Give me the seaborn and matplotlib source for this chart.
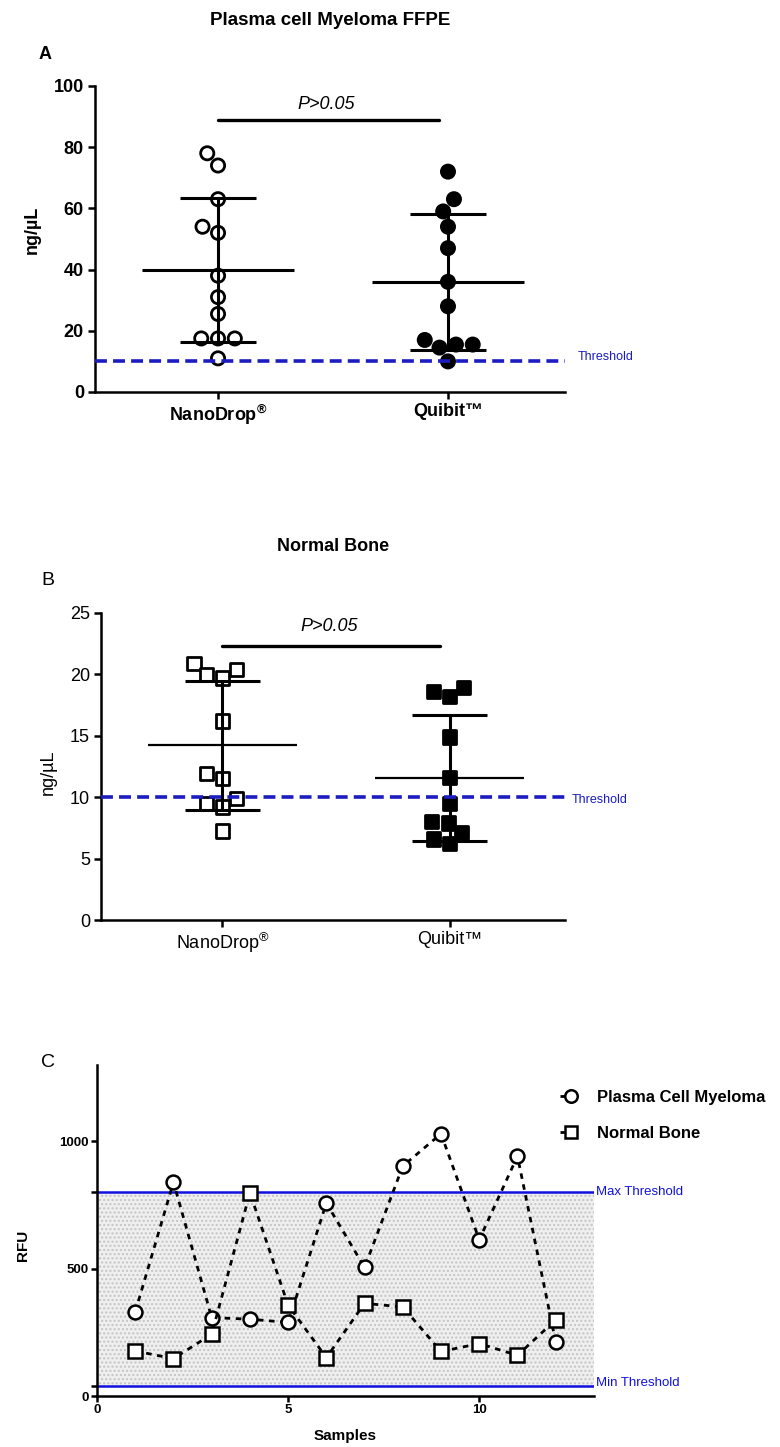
import numpy as np
import pandas as pd
import seaborn as sns
import matplotlib.pyplot as plt

# Valori (ng/uL)
metodi = ["NanoDrop", "Quibit"]
etichette_x = [r"NanoDrop$^{\mathregular{®}}$", "Quibit™"]

mieloma_nanodrop = [78, 74, 63, 54, 52, 38, 31, 25.5, 17.5, 17.5, 17.5, 11]
mieloma_quibit = [72, 63, 59, 54, 47, 36, 28, 17, 15.5, 15.5, 14.5, 10]

osso_nanodrop = [20.9, 20.4, 20.0, 19.7, 16.2, 11.9, 11.5, 9.9, 9.5, 9.2, 7.25]
osso_quibit = [18.9, 18.6, 18.2, 14.9, 11.6, 9.5, 8.0, 7.9, 7.1, 6.6, 6.2]

soglia_ng = 10

# Pannello C (RFU per campione)
campioni = list(range(1, 13))
rfu_mieloma = [331, 840, 308, 302, 289, 758, 505, 903, 1030, 614, 942, 213]
rfu_osso = [177, 147, 243, 798, 357, 151, 364, 350, 175, 206, 160, 299]
soglia_max = 800
soglia_min = 40

sns.set_theme(style="ticks")
plt.rcParams["font.family"] = ["Liberation Sans", "DejaVu Sans"]
plt.rcParams.update({"text.color": "black", "axes.labelcolor": "black",
                     "xtick.color": "black", "ytick.color": "black"})

BLU = "#1c1cc0"

fig = plt.figure(figsize=(7.8, 14.47), dpi=100)
ax_a = fig.add_axes([0.1218, 0.7291, 0.6026, 0.2115])
ax_b = fig.add_axes([0.1295, 0.3642, 0.595, 0.2122])
ax_c = fig.add_axes([0.1244, 0.0352, 0.637, 0.2288])


def pannello(ax, nd, qb, marker, ylim, yticks, bracket_y, p_y, thr_x, thr_y, peso, lw_media):
    df = pd.DataFrame({
        "metodo": [metodi[0]] * len(nd) + [metodi[1]] * len(qb),
        "valore": nd + qb,
    })
    sns.swarmplot(data=df, x="metodo", y="valore", hue="metodo", order=metodi,
                  palette={metodi[0]: "white", metodi[1]: "black"},
                  marker=marker, size=9.5, edgecolor="black", linewidth=2,
                  legend=False, ax=ax, zorder=3)
    # media e deviazione standard
    stats = df.groupby("metodo")["valore"].agg(["mean", "std"]).reindex(metodi)
    for i, (m, s) in enumerate(zip(stats["mean"], stats["std"])):
        ax.hlines(m, i - 0.33, i + 0.33, color="black", lw=lw_media, zorder=4)
        ax.vlines(i, m - s, m + s, color="black", lw=2.2, zorder=4)
        ax.hlines([m - s, m + s], i - 0.165, i + 0.165, color="black", lw=2.2, zorder=4)

    ax.axhline(soglia_ng, color=BLU, lw=2.6, ls=(0, (3.3, 1.7)), zorder=5)
    ax.text(thr_x, thr_y, "Threshold", color=BLU, fontsize=9,
            transform=ax.get_yaxis_transform(), va="center", clip_on=False)

    ax.plot([0, 0.96], [bracket_y, bracket_y], color="black", lw=2.4)
    ax.text(0.47, p_y, "P>0.05", fontsize=13, style="italic", ha="center", va="center")

    ax.set_xlim(-0.535, 1.509)
    ax.set_ylim(*ylim)
    ax.set_yticks(yticks)
    ax.set_xticks([0, 1])
    ax.set_xticklabels(etichette_x)
    ax.set_xlabel("")
    ax.set_ylabel("ng/µL", fontsize=13, fontweight=peso)
    for lab in ax.get_xticklabels() + ax.get_yticklabels():
        lab.set_fontsize(13)
        lab.set_fontweight("bold" if peso == "bold" else "normal")
    ax.tick_params(direction="out", length=5, width=1.8, colors="black", pad=3)
    sns.despine(ax=ax)
    for sp in ["left", "bottom"]:
        ax.spines[sp].set_linewidth(1.8)
        ax.spines[sp].set_color("black")


pannello(ax_a, mieloma_nanodrop, mieloma_quibit, "o", (0, 100), range(0, 101, 20),
         89, 94, 1.026, 11.5, "bold", 2.2)
ax_a.yaxis.set_label_coords(-0.115, 0.53)

pannello(ax_b, osso_nanodrop, osso_quibit, "s", (0, 25), range(0, 26, 5),
         22.3, 23.9, 1.015, 9.8, "normal", 1.6)
ax_b.yaxis.set_label_coords(-0.095, 0.48)

fig.text(0.423, 0.986, "Plasma cell Myeloma FFPE", ha="center", va="center",
         fontsize=13.5, fontweight="bold")
fig.text(0.058, 0.962, "A", ha="center", va="center", fontsize=13, fontweight="bold")
fig.text(0.427, 0.622, "Normal Bone", ha="center", va="center", fontsize=13, fontweight="bold")
fig.text(0.0615, 0.599, "B", ha="center", va="center", fontsize=14)
fig.text(0.0615, 0.266, "C", ha="center", va="center", fontsize=14)

# Pannello C
ax_c.axhspan(soglia_min, soglia_max, facecolor="#efefef", edgecolor="#c4c4c4",
             hatch="....", lw=0, zorder=0)
ax_c.axhline(soglia_max, color="#1010e0", lw=1.8, zorder=1)
ax_c.axhline(soglia_min, color="#1010e0", lw=1.8, zorder=1)
ax_c.text(1.005, soglia_max, "Max Threshold", color="#1010e0", fontsize=9.5,
          transform=ax_c.get_yaxis_transform(), va="center", clip_on=False)
ax_c.text(1.005, soglia_min + 12, "Min Threshold", color="#1010e0", fontsize=9.5,
          transform=ax_c.get_yaxis_transform(), va="center", clip_on=False)

sns.lineplot(x=campioni, y=rfu_mieloma, ax=ax_c, color="black", lw=2,
             ls=(0, (2, 2)), marker="o", ms=10, mfc="white", mec="black", mew=1.8,
             label="Plasma Cell Myeloma", zorder=3)
sns.lineplot(x=campioni, y=rfu_osso, ax=ax_c, color="black", lw=2,
             ls=(0, (2, 2)), marker="s", ms=10, mfc="white", mec="black", mew=1.8,
             label="Normal Bone", zorder=3)

ax_c.set_xlim(0, 13)
ax_c.set_ylim(0, 1300)
ax_c.set_xticks([0, 5, 10])
ax_c.set_yticks([0, soglia_min, 500, soglia_max, 1000])
ax_c.set_yticklabels(["0", "", "500", "", "1000"])
for lab in ax_c.get_xticklabels() + ax_c.get_yticklabels():
    lab.set_fontsize(9.5)
    lab.set_fontweight("bold")
ax_c.tick_params(direction="out", length=4, width=1.8, colors="black", pad=2)
ax_c.set_xlabel("Samples", fontsize=11, fontweight="bold")
ax_c.set_ylabel("RFU", fontsize=11, fontweight="bold")
ax_c.xaxis.set_label_coords(0.5, -0.1)
ax_c.yaxis.set_label_coords(-0.135, 0.456)
sns.despine(ax=ax_c)
for sp in ["left", "bottom"]:
    ax_c.spines[sp].set_linewidth(1.8)
    ax_c.spines[sp].set_color("black")

ax_c.legend(loc="upper left", bbox_to_anchor=(0.718, 0.2467), bbox_transform=fig.transFigure,
            frameon=False, borderpad=0, borderaxespad=0, handlelength=1.3,
            handletextpad=0.9, labelspacing=1.25,
            prop={"size": 12, "weight": "bold"}, markerscale=0.9)

fig.savefig("out.png", dpi=100)
